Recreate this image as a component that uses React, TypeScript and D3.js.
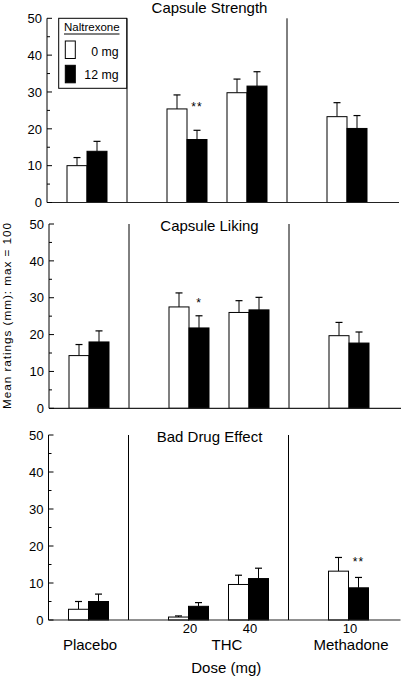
import React from "react";
import * as d3 from "d3";

const categories = ["Placebo", "THC 20", "THC 40", "Methadone 10"];
const slotPositions = [2, 7, 10, 15];
const dividerPositions = [4, 12];
const doseLabels = ["", "20", "40", "10"];
const drugLabels = ["Placebo", "THC", "Methadone"];
const drugLabelPositions = [2, 8.85, 15.05];

const panelTitles = ["Capsule Strength", "Capsule Liking", "Bad Drug Effect"];

const strength0 = [10.0, 25.4, 29.8, 23.3];
const strength0Err = [2.2, 3.8, 3.7, 3.8];
const strength12 = [13.9, 17.1, 31.6, 20.1];
const strength12Err = [2.7, 2.5, 3.9, 3.5];

const liking0 = [14.3, 27.5, 26.0, 19.7];
const liking0Err = [3.0, 3.8, 3.2, 3.6];
const liking12 = [18.0, 21.8, 26.7, 17.7];
const liking12Err = [3.0, 3.3, 3.4, 3.0];

const bad0 = [2.9, 0.8, 9.6, 13.2];
const bad0Err = [2.1, 0.3, 2.5, 3.7];
const bad12 = [5.0, 3.7, 11.2, 8.7];
const bad12Err = [2.0, 1.0, 2.8, 2.8];

const starIndex = [1, 1, 3];
const starText = ["**", "*", "**"];
const starValue = [26.8, 29.3, 16.5];

const yTicks = [0, 10, 20, 30, 40, 50];
const yMinorTicks = [5, 15, 25, 35, 45];
const legendTitle = "Naltrexone";
const legendLabels = ["0 mg", "12 mg"];

const series0 = [strength0, liking0, bad0];
const series0Err = [strength0Err, liking0Err, bad0Err];
const series12 = [strength12, liking12, bad12];
const series12Err = [strength12Err, liking12Err, bad12Err];

const FONT = "'Liberation Sans', Arial, Helvetica, sans-serif";

const panelLayout = [
  { top: 18.3, bottom: 202.5, axisX: 47, titleY: 13 },
  { top: 224, bottom: 408.3, axisX: 49, titleY: 231 },
  { top: 435, bottom: 620, axisX: 48.5, titleY: 442 },
];

function Panel({ idx }: { idx: number }) {
  const L = panelLayout[idx];
  const y = d3.scaleLinear().domain([0, 50]).range([L.bottom, L.top]);
  const x = d3.scaleLinear().domain([0, 17.6]).range([L.axisX, L.axisX + 352]);
  const bw = x(1) - x(0);
  const v0 = series0[idx];
  const e0 = series0Err[idx];
  const v1 = series12[idx];
  const e1 = series12Err[idx];
  const capW = 7;
  return (
    <g>
      {categories.map((c, i) => {
        const cx = x(slotPositions[i]);
        const wx = cx - bw;
        const bxC = cx + bw / 2;
        const wxC = cx - bw / 2;
        return (
          <g key={c}>
            <line x1={wxC} x2={wxC} y1={y(v0[i])} y2={y(v0[i] + e0[i])} stroke="#000" strokeWidth={1} />
            <line x1={wxC - capW / 2} x2={wxC + capW / 2} y1={y(v0[i] + e0[i])} y2={y(v0[i] + e0[i])} stroke="#000" strokeWidth={1.2} />
            <line x1={bxC} x2={bxC} y1={y(v1[i])} y2={y(v1[i] + e1[i])} stroke="#000" strokeWidth={1} />
            <line x1={bxC - capW / 2} x2={bxC + capW / 2} y1={y(v1[i] + e1[i])} y2={y(v1[i] + e1[i])} stroke="#000" strokeWidth={1.2} />
            <rect x={wx} y={y(v0[i])} width={bw} height={y(0) - y(v0[i])} fill="#fff" stroke="#000" strokeWidth={1} />
            <rect x={cx} y={y(v1[i])} width={bw} height={y(0) - y(v1[i])} fill="#000" stroke="#000" strokeWidth={1} />
          </g>
        );
      })}
      <text
        x={x(slotPositions[starIndex[idx]]) + bw / 2}
        y={y(starValue[idx]) + 7}
        textAnchor="middle"
        fontFamily={FONT}
        fontSize={12}
        letterSpacing={1}
      >
        {starText[idx]}
      </text>
      {dividerPositions.map((d) => (
        <line key={d} x1={x(d)} x2={x(d)} y1={y(50)} y2={y(0)} stroke="#000" strokeWidth={1} />
      ))}
      <line x1={x(0)} x2={x(0)} y1={y(50)} y2={y(0)} stroke="#000" strokeWidth={1} />
      <line x1={x(0)} x2={x(17.6)} y1={y(0)} y2={y(0)} stroke="#222" strokeWidth={1.2} />
      {yTicks.map((t) => (
        <g key={t}>
          <line x1={x(0)} x2={x(0) + 5} y1={y(t)} y2={y(t)} stroke="#000" strokeWidth={1} />
          <text x={x(0) - 5} y={y(t)} dy="0.36em" textAnchor="end" fontFamily={FONT} fontSize={13}>
            {t}
          </text>
        </g>
      ))}
      {yMinorTicks.map((t) => (
        <line key={t} x1={x(0)} x2={x(0) + 3} y1={y(t)} y2={y(t)} stroke="#000" strokeWidth={1} />
      ))}
      <text x={209.5} y={L.titleY} textAnchor="middle" fontFamily={FONT} fontSize={15}>
        {panelTitles[idx]}
      </text>
      {idx === 2 && (
        <g>
          {doseLabels.map((d, i) =>
            d ? (
              <text key={i} x={x(slotPositions[i]) + 1.5} y={633} textAnchor="middle" fontFamily={FONT} fontSize={13}>
                {d}
              </text>
            ) : null
          )}
          {drugLabels.map((d, i) => (
            <text key={d} x={x(drugLabelPositions[i]) + 1.5} y={650} textAnchor="middle" fontFamily={FONT} fontSize={15}>
              {d}
            </text>
          ))}
          <text x={226.3} y={672.7} textAnchor="middle" fontFamily={FONT} fontSize={15}>
            Dose (mg)
          </text>
        </g>
      )}
      {idx === 0 && (
        <g>
          <rect x={58.7} y={18.3} width={68} height={70} fill="#fff" stroke="#000" strokeWidth={1} />
          <text x={64} y={31} fontFamily={FONT} fontSize={11.5}>
            {legendTitle}
          </text>
          <line x1={64} x2={119.5} y1={34} y2={34} stroke="#000" strokeWidth={1} />
          <rect x={65.3} y={41} width={10} height={17.5} fill="#fff" stroke="#000" strokeWidth={1} />
          <rect x={65.3} y={65.3} width={10} height={17.5} fill="#000" stroke="#000" strokeWidth={1} />
          <text x={118.5} y={55.7} textAnchor="end" fontFamily={FONT} fontSize={12.3}>
            {legendLabels[0]}
          </text>
          <text x={118.5} y={79} textAnchor="end" fontFamily={FONT} fontSize={12.3}>
            {legendLabels[1]}
          </text>
        </g>
      )}
    </g>
  );
}

export default function App() {
  return (
    <svg
      width={402}
      height={679}
      viewBox="0 0 402 679"
      style={{ position: "absolute", left: 0, top: 0, background: "#fff" }}
    >
      <rect x={0} y={0} width={402} height={679} fill="#fff" />
      {[0, 1, 2].map((i) => (
        <Panel key={i} idx={i} />
      ))}
      <text
        transform="translate(10.5, 316) rotate(-90)"
        textAnchor="middle"
        fontFamily={FONT}
        fontSize={11.8}
        textLength={186}
        lengthAdjust="spacing"
      >
        Mean ratings (mm): max = 100
      </text>
    </svg>
  );
}
